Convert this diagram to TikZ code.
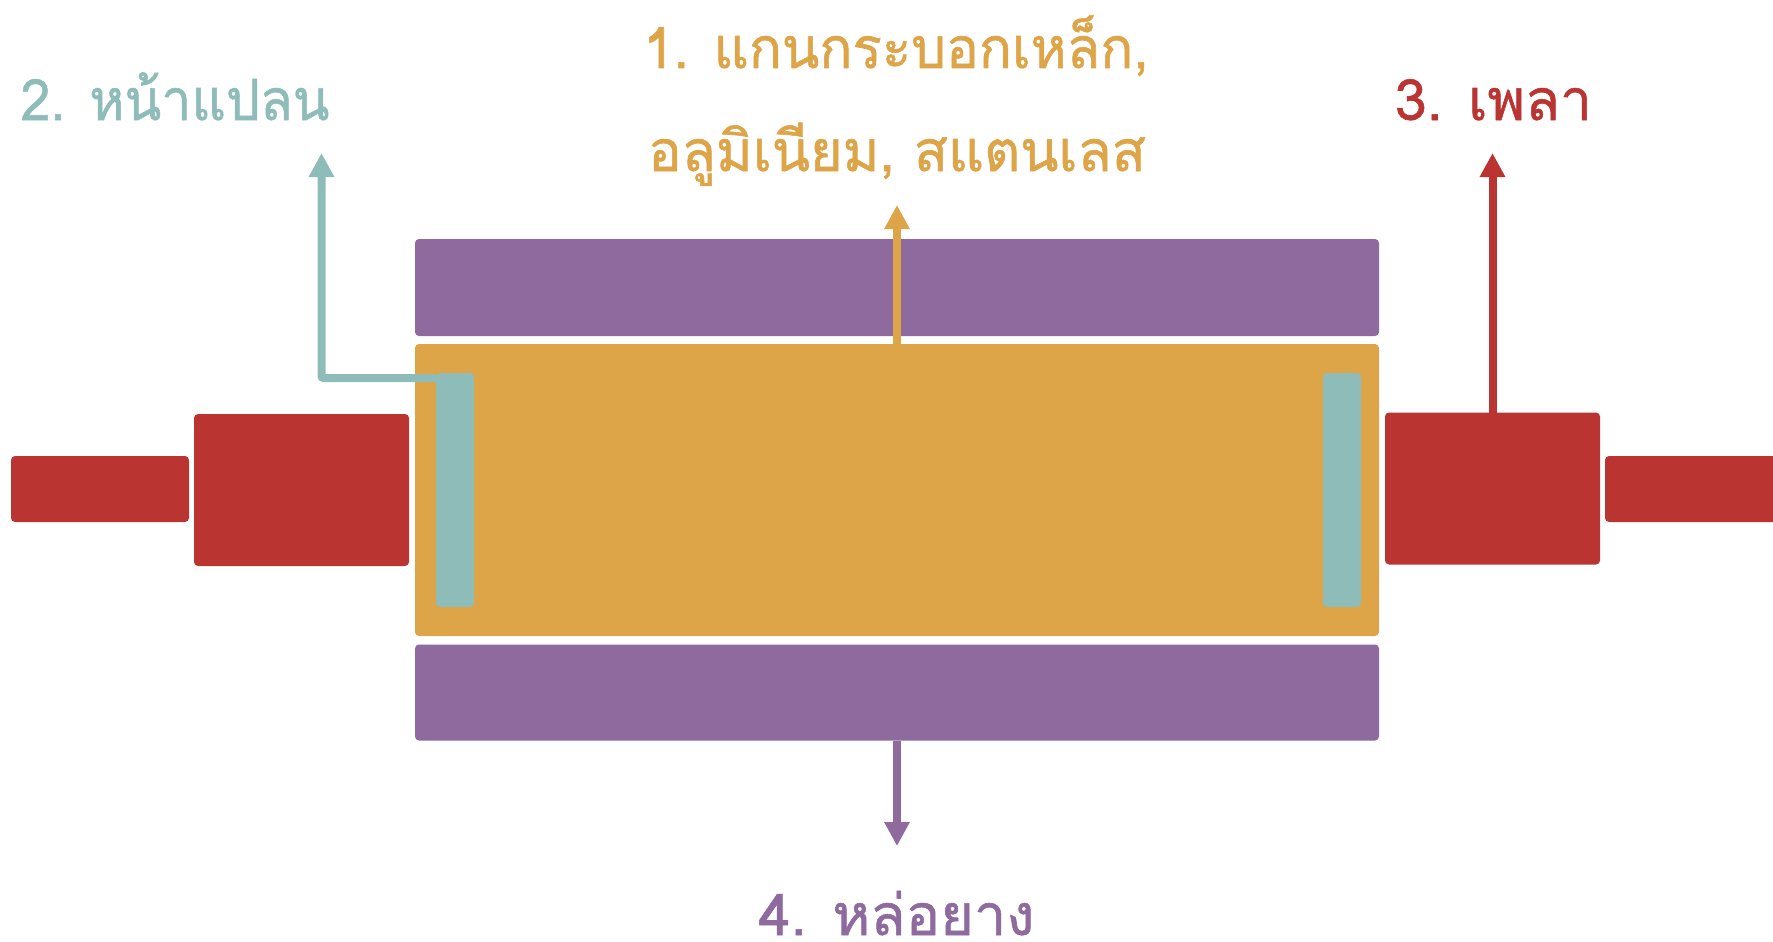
\documentclass[tikz,border=0pt]{standalone}
\usepackage{fontspec}
\usepackage{graphicx}
\usetikzlibrary{arrows.meta}
\newfontfamily\thaifont[Script=Thai,FakeBold=1]{Loma}
\definecolor{cOrange}{HTML}{DDA448}
\definecolor{cPurple}{HTML}{8F6A9E}
\definecolor{cTeal}{HTML}{8EBCB9}
\definecolor{cRed}{HTML}{BA3532}
\tikzset{
  part/.style={rectangle,rounded corners=4pt,inner sep=0pt,outer sep=0pt,draw=none},
  lead/.style={line width=8pt,-{Triangle[width=24pt,length=24pt]}},
  lbl/.style={inner sep=0pt,outer sep=0pt,anchor=base,font=\thaifont\fontsize{57}{57}\selectfont},
}
\begin{document}
\begin{tikzpicture}[x=1pt,y=-1pt]
\useasboundingbox (0,0) rectangle (1773,942);
% rotor
\node[part,fill=cPurple,minimum width=964pt,minimum height=97pt] (ptop) at (897,287.5) {};
\node[part,fill=cOrange,minimum width=964pt,minimum height=292pt] (core) at (897,490) {};
\node[part,fill=cPurple,minimum width=964pt,minimum height=96pt] (pbot) at (897,692.5) {};
% shaft
\node[part,fill=cRed,minimum width=178pt,minimum height=66pt] (shL) at (100,489) {};
\node[part,fill=cRed,minimum width=215pt,minimum height=152pt] (blL) at (301.5,490) {};
\node[part,fill=cRed,minimum width=215pt,minimum height=152pt] (blR) at (1492.5,488.5) {};
\node[part,fill=cRed,minimum width=180pt,minimum height=66pt] (shR) at (1695,489) {};
% flanges
\node[part,fill=cTeal,minimum width=38pt,minimum height=234pt] (flL) at (455,490) {};
\node[part,fill=cTeal,minimum width=38pt,minimum height=234pt] (flR) at (1342,490) {};
% arrow ends
\coordinate (eA) at (897,205);
\coordinate (eB) at (321.5,153);
\coordinate (eC) at (1492.5,153);
\coordinate (eD) at (897,846);
\coordinate (bend) at (321.5,378);
% connectors
\draw[lead,cOrange] (core.north) -- (eA);
\draw[lead,cRed] (blR.north) -- (eC);
\draw[lead,cPurple] (pbot.south) -- (eD);
\draw[lead,cTeal,rounded corners=2pt] (flL.west |- bend) -- (bend) -- (eB);
% labels
\node[lbl,text=cOrange] (t1a) at (896,68) {\scalebox{0.96}[1]{1. แกนกระบอกเหล็ก,}};
\node[lbl,text=cOrange] (t1b) at (897,171) {\scalebox{0.98}[1]{อลูมิเนียม, สแตนเลส}};
\node[lbl,text=cTeal] (t2) at (175,120) {\scalebox{0.94}[1]{2. หน้าแปลน}};
\node[lbl,text=cRed] (t3) at (1493.5,120) {\scalebox{1.0}[1]{3. เพลา}};
\node[lbl,text=cPurple] (t4) at (896.5,935) {\scalebox{1.01}[1]{4. หล่อยาง}};
\end{tikzpicture}
\end{document}
